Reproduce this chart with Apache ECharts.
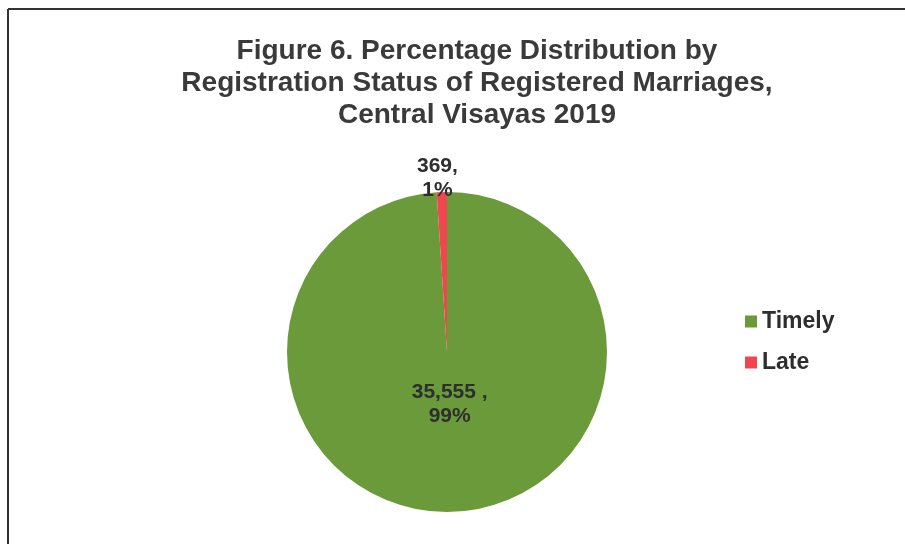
<!DOCTYPE html>
<html>
<head>
<meta charset="utf-8">
<script src="https://cdn.jsdelivr.net/npm/echarts@6/dist/echarts.min.js"></script>
<style>
  html, body { margin: 0; padding: 0; background: #fff; }
  #chart { width: 905px; height: 544px; }
</style>
</head>
<body>
<div id="chart"></div>
<script>
'use strict';
// registration status of registered marriages, Central Visayas 2019
var categories = ['Timely', 'Late'];
var counts = [35555, 369];
var pctText = ['99%', '1%'];
var valueText = ['35,555 ,', '369,'];
var colors = ['#6a9a3a', '#f0464f'];

var chart = echarts.init(document.getElementById('chart'));
var font = '"Liberation Sans", Arial, sans-serif';

var pieData = categories.map(function (name, i) {
  var item = { name: name, value: counts[i], itemStyle: { color: colors[i] } };
  if (i === 0) {
    item.label = { position: 'inside' };
  } else {
    item.label = { position: 'outside' };
    item.labelLine = { show: false, length: 14, length2: 0 };
  }
  return item;
});

chart.setOption({
  backgroundColor: '#fff',
  animation: false,
  title: {
    text: 'Figure 6. Percentage Distribution by\nRegistration Status of Registered Marriages,\nCentral Visayas 2019',
    left: 472,
    top: 30,
    textAlign: 'center',
    textStyle: {
      fontFamily: font, fontSize: 28, fontWeight: 'bold',
      color: '#3a3a3a', lineHeight: 32, align: 'center'
    }
  },
  legend: {
    orient: 'vertical',
    left: 740,
    top: 305,
    itemWidth: 12,
    itemHeight: 12,
    itemGap: 18,
    icon: 'rect',
    data: categories,
    textStyle: { fontFamily: font, fontSize: 23, fontWeight: 'bold', color: '#2e2e2e' }
  },
  graphic: [
    { type: 'line', shape: { x1: 8, y1: 9, x2: 905, y2: 9 }, style: { stroke: '#333', lineWidth: 2 } },
    { type: 'line', shape: { x1: 8, y1: 9, x2: 8, y2: 544 }, style: { stroke: '#333', lineWidth: 2 } }
  ],
  series: [{
    type: 'pie',
    center: [447, 352],
    radius: 160,
    startAngle: 90,
    clockwise: true,
    avoidLabelOverlap: false,
    data: pieData,
    label: {
      show: true,
      fontFamily: font,
      fontSize: 21,
      fontWeight: 'bold',
      color: '#2e2e2e',
      lineHeight: 24,
      formatter: function (p) {
        return valueText[p.dataIndex] + '\n' + pctText[p.dataIndex];
      }
    },
    labelLayout: function (p) {
      if (p.dataIndex === 0) return { dy: -31, align: 'center' };
      return { dx: 1, align: 'center' };
    },
    emphasis: { disabled: true }
  }]
});
</script>
</body>
</html>
